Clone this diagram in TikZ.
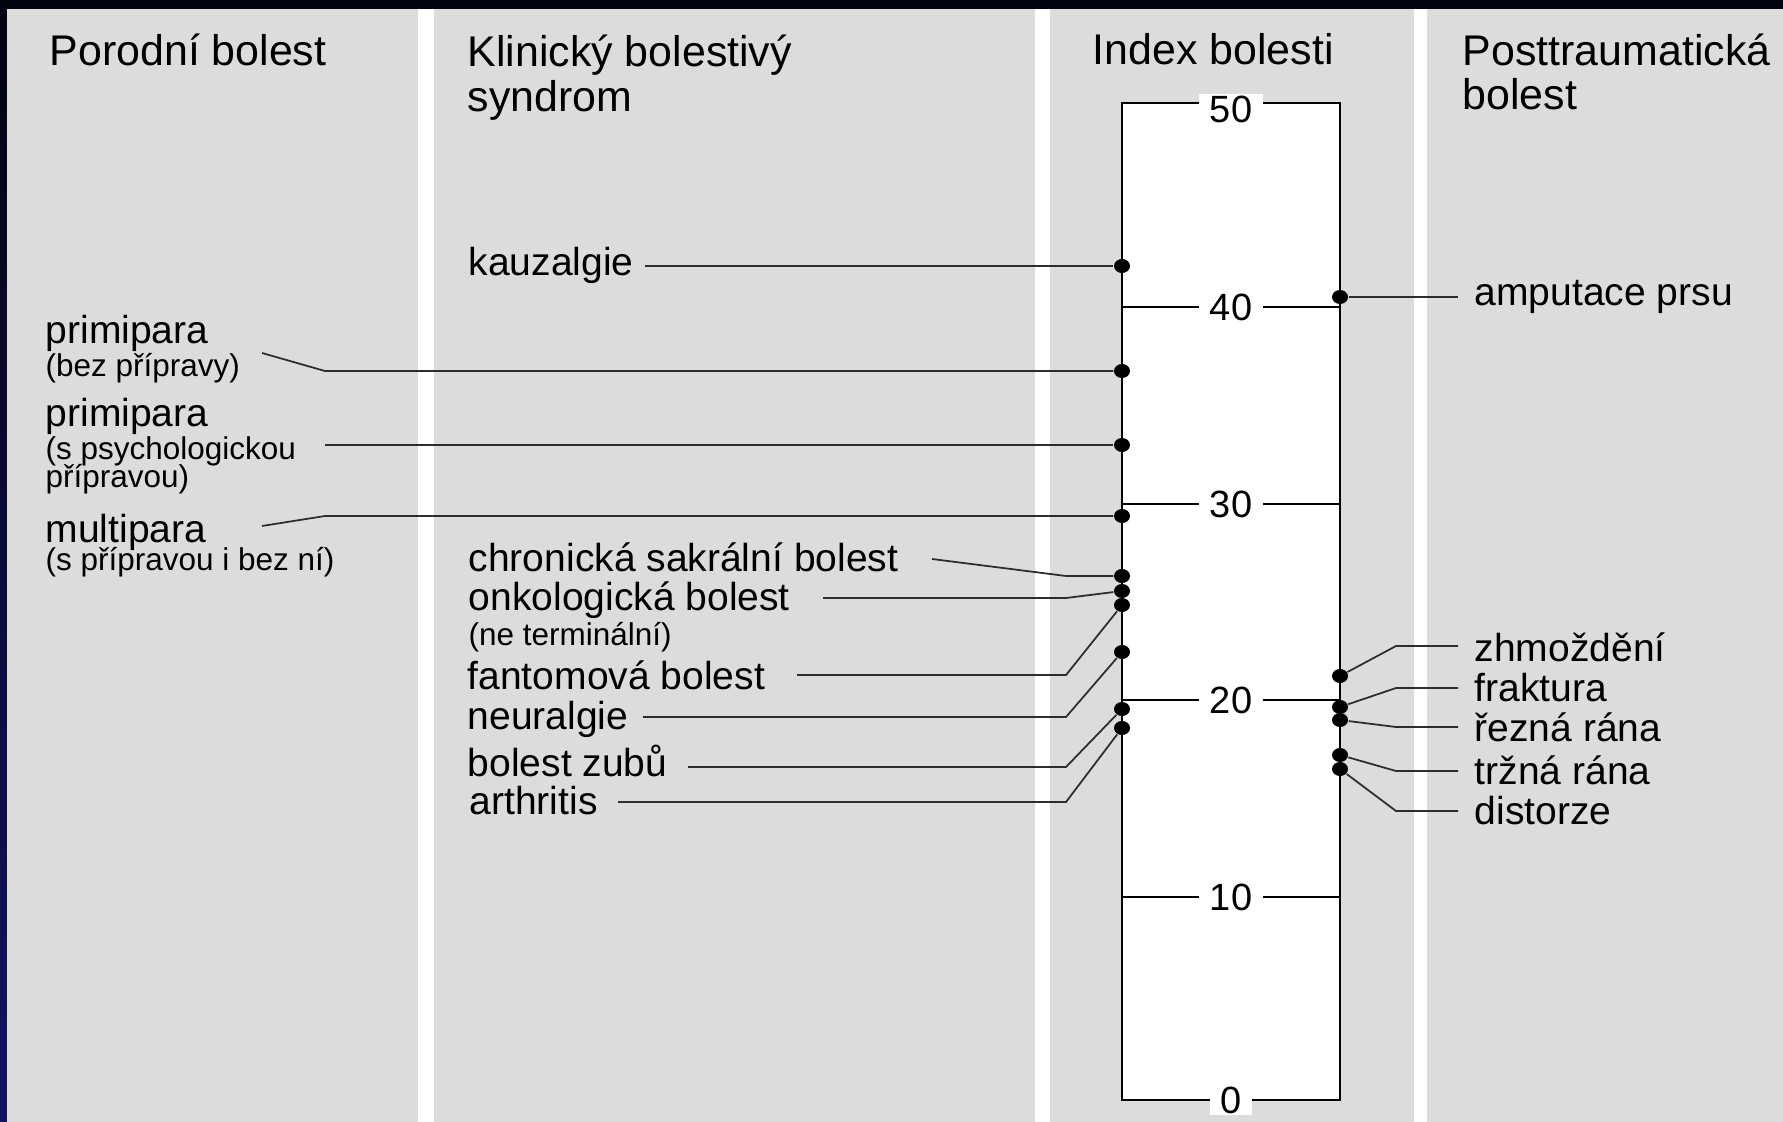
\documentclass[tikz,border=0pt]{standalone}
\usepackage{fontspec}
\setmainfont{Liberation Sans}
\usetikzlibrary{shapes.geometric}
\definecolor{panelgray}{RGB}{220,220,220}
\definecolor{navytop}{RGB}{3,3,16}
\definecolor{navybot}{RGB}{18,18,100}
\definecolor{leadgray}{RGB}{45,45,45}
\newcommand{\hdrsize}{\fontsize{12.2pt}{14pt}\selectfont}
\newcommand{\lblsize}{\fontsize{11.1pt}{13pt}\selectfont}
\newcommand{\subsize}{\fontsize{8.95pt}{10.5pt}\selectfont}
\newcommand{\ticksize}{\fontsize{10.8pt}{12pt}\selectfont}
\tikzset{
  hdr/.style={anchor=base west, inner sep=0pt, font=\hdrsize},
  lbl/.style={anchor=base west, inner sep=0pt, font=\lblsize},
  sublbl/.style={anchor=base west, inner sep=0pt, font=\subsize},
  ticklbl/.style={fill=white, inner xsep=3pt, inner ysep=0.5pt, font=\ticksize},
  dotpt/.style={ellipse, fill=black, inner sep=0pt, minimum width=0.16cm, minimum height=0.14cm},
  leader/.style={draw=leadgray, line width=0.5pt},
}
\begin{document}
\begin{tikzpicture}[x=0.01cm, y=-0.01cm]
  \useasboundingbox (0,0) rectangle (1783,1122);
  % background and columns
  \shade[top color=navytop, bottom color=navybot] (0,0) rectangle (1783,1122);
  \fill[white] (7,9) rectangle (1783,1122);
  \foreach \xa/\xb in {7/418, 434/1035, 1050/1414, 1427/1783}
    \fill[panelgray] (\xa,9) rectangle (\xb,1122);

  % headers
  \node[hdr] (hPor) at (49,66) {Porodní bolest};
  \node[hdr] (hKlin) at (467,67) {Klinický bolestivý};
  \node[hdr] (hKlinb) at (467,112) {syndrom};
  \node[hdr] (hIdx) at (1092,65) {Index bolesti};
  \node[hdr] (hPost) at (1462,66) {Posttraumatická};
  \node[hdr] (hPostb) at (1462,110) {bolest};

  % scale
  \draw[line width=0.6pt, fill=white] (1122,103) rectangle (1340,1100);
  \foreach \v/\y in {1/897, 2/700, 3/504, 4/307}
    \draw[line width=0.5pt] (1122,\y) -- (1340,\y);
  \foreach \v/\t/\y in {0/0/1100, 1/10/897, 2/20/700, 3/30/504, 4/40/307, 5/50/109}
    \node[ticklbl] (t\v) at (1231,\y) {\t};

  % points on the scale
  \foreach \n/\y in {K/266, Pa/371, Pb/445, Mu/516, Ch/576, On/591, Fa/605, Ne/652, Zu/709, Ar/728}
    \node[dotpt] (d\n) at (1122,\y) {};
  \foreach \n/\y in {Am/297, Zh/676, Fr/707, Re/720, Tr/755, Di/769}
    \node[dotpt] (d\n) at (1340,\y) {};

  % porodni bolest
  \node[lbl] (primA) at (45,344) {primipara};
  \node[sublbl] (primAb) at (45,377) {(bez přípravy)};
  \node[lbl] (primB) at (45,426) {primipara};
  \node[sublbl] (primBb) at (45,459) {(s psychologickou};
  \node[sublbl] (primBc) at (45,488) {přípravou)};
  \node[lbl] (multi) at (45,542) {multipara};
  \node[sublbl] (multib) at (45,570) {(s přípravou i bez ní)};
  \foreach \n/\xs/\ys/\yb in {Pa/262/353/371, Pb/325/445/445, Mu/262/526/516} {
    \coordinate (s\n) at (\xs,\ys);
    \coordinate (b\n) at (325,\yb);
    \draw[leader] (s\n) -- (b\n) -- (d\n);
  }

  % klinicky bolestivy syndrom
  \node[lbl] (kauz) at (468,276) {kauzalgie};
  \coordinate (sK) at (645,266);
  \draw[leader] (sK) -- (dK);
  \node[lbl] (chron) at (468,571) {chronická sakrální bolest};
  \node[lbl] (onko) at (468,610) {onkologická bolest};
  \node[sublbl] (onkob) at (468,645) {(ne terminální)};
  \node[lbl] (fant) at (467,689) {fantomová bolest};
  \node[lbl] (neur) at (467,729) {neuralgie};
  \node[lbl] (zuby) at (467,776) {bolest zubů};
  \node[lbl] (arth) at (469,814) {arthritis};
  \foreach \n/\xs/\ys/\yb in {Ch/932/559/576, On/823/598/598, Fa/797/675/675,
                             Ne/643/717/717, Zu/688/767/767, Ar/618/802/802} {
    \coordinate (s\n) at (\xs,\ys);
    \coordinate (b\n) at (1066,\yb);
    \draw[leader] (s\n) -- (b\n) -- (d\n);
  }

  % posttraumaticka bolest
  \node[lbl] (amp) at (1474,306) {amputace prsu};
  \coordinate (eAm) at (1458,297);
  \draw[leader] (dAm) -- (eAm);
  \node[lbl] (zhm) at (1474,661) {zhmoždění};
  \node[lbl] (frak) at (1474,701) {fraktura};
  \node[lbl] (rez) at (1474,741) {řezná rána};
  \node[lbl] (trz) at (1474,784) {tržná rána};
  \node[lbl] (dist) at (1474,824) {distorze};
  \foreach \n/\yb in {Zh/646, Fr/688, Re/727, Tr/771, Di/811} {
    \coordinate (b\n) at (1396,\yb);
    \coordinate (e\n) at (1458,\yb);
    \draw[leader] (d\n) -- (b\n) -- (e\n);
  }
\end{tikzpicture}
\end{document}
